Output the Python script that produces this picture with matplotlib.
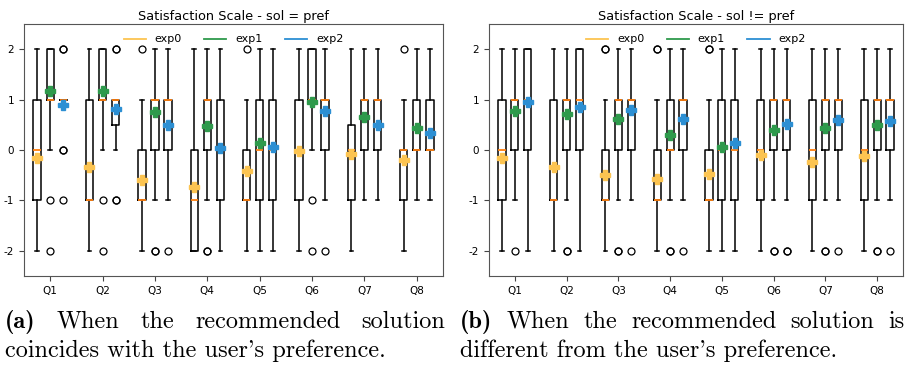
# Boxplots of satisfaction scores per question, two panels (sol = pref / sol != pref)
import matplotlib
matplotlib.use('Agg')
import matplotlib.pyplot as plt
from matplotlib.lines import Line2D

plt.rcParams['axes.unicode_minus'] = False

questions = ['Q1', 'Q2', 'Q3', 'Q4', 'Q5', 'Q6', 'Q7', 'Q8']
experiments = ['exp0', 'exp1', 'exp2']
exp_colors = ['#fcc451', '#2e9a4c', '#2c8fd3']

# Panel (a): sol = pref   -- one row per experiment, one value per question
a_q1 = [[-1, -1, -1, -2, -1, -1, -1, -1],
        [1, 1, 0, 0, -1, 1, 0, 0],
        [1, 0.5, 0, -1, -1, 0, 0, 0]]
a_med = [[0, -1, -1, -1, -1, 0, 0, 0],
         [1, 1, 1, 1, 0, 1, 1, 0],
         [1, 1, 1, 0, 0, 1, 1, 0]]
a_q3 = [[1, 1, 0, 0, 0, 1, 0.5, 0],
        [2, 2, 1, 1, 1, 2, 1, 1],
        [1, 1, 1, 1, 1, 1, 1, 1]]
a_lo = [[-2, -2, -2, -2, -2, -2, -2, -2],
        [0, 0, -1, -1, -2, 0, -1, -1],
        [1, 0, -1, -2, -2, -1, -1, -1]]
a_hi = [[2, 2, 1, 2, 1, 2, 2, 1],
        [2, 2, 2, 2, 2, 2, 2, 2],
        [1, 1, 2, 2, 2, 2, 2, 2]]
a_mean = [[-0.15, -0.33, -0.6, -0.73, -0.42, -0.02, -0.07, -0.2],
          [1.18, 1.18, 0.75, 0.48, 0.13, 0.95, 0.65, 0.43],
          [0.9, 0.82, 0.5, 0.03, 0.05, 0.78, 0.5, 0.33]]
a_fliers = [[[], [], [2], [], [2], [], [], [2]],
            [[-1, -2], [-1, -2], [-2, -2], [-2, -2], [], [-1, -2], [], []],
            [[2, 2, 0, 0, -1], [2, 2, -1, -1], [-2], [], [], [-2], [], []]]

# Panel (b): sol != pref
b_q1 = [[-1, -1, -1, -1, -1, -1, -1, -1],
        [0, 0, 0, 0, -1, 0, 0, 0],
        [0, 0, 0, 0, -1, 0, 0, 0]]
b_med = [[0, -1, -1, -1, -1, 0, 0, 0],
         [1, 1, 1, 0, 0, 1, 1, 1],
         [1, 1, 1, 1, 0, 1, 1, 1]]
b_q3 = [[1, 1, 0, 0, 0, 1, 1, 1],
        [1, 1, 1, 1, 1, 1, 1, 1],
        [2, 2, 1, 1, 1, 1, 1, 1]]
b_lo = [[-2, -2, -2, -2, -2, -2, -2, -2],
        [-1, -1, -1, -1, -2, -1, -1, -1],
        [-2, -2, -1, -1, -2, -1, -1, -1]]
b_hi = [[2, 2, 1, 1, 1, 2, 2, 2],
        [2, 2, 2, 2, 2, 2, 2, 2],
        [2, 2, 2, 2, 2, 2, 2, 2]]
b_mean = [[-0.15, -0.33, -0.5, -0.58, -0.47, -0.1, -0.23, -0.12],
          [0.77, 0.72, 0.62, 0.3, 0.05, 0.4, 0.43, 0.5],
          [0.95, 0.85, 0.8, 0.62, 0.13, 0.52, 0.6, 0.57]]
b_fliers = [[[], [], [2, 2], [2, 2], [2, 2], [], [], []],
            [[-2], [-2, -2], [-2, -2], [-2, -2], [], [-2, -2], [-2, -2], [-2, -2]],
            [[], [], [-2], [-2], [], [-2, -2], [-2], [-2]]]


def draw_panel(ax, title, q1, med, q3, lo, hi, mean, fliers):
    for e in range(len(experiments)):
        stats = []
        for i in range(len(questions)):
            stats.append(dict(q1=q1[e][i], med=med[e][i], q3=q3[e][i],
                              whislo=lo[e][i], whishi=hi[e][i],
                              mean=mean[e][i], fliers=fliers[e][i]))
        pos = [i + 1 + (e - 1) * 0.25 for i in range(len(questions))]
        ax.bxp(stats, positions=pos, widths=0.14, showmeans=True,
               boxprops=dict(color='black', linewidth=1.1),
               whiskerprops=dict(color='black', linewidth=1.1),
               capprops=dict(color='black', linewidth=1.1),
               medianprops=dict(color='#ff7f0e', linewidth=1.3),
               flierprops=dict(marker='o', markersize=5, markerfacecolor='none',
                               markeredgecolor='black', markeredgewidth=0.9),
               meanprops=dict(marker='P', markersize=7.5, markerfacecolor=exp_colors[e],
                              markeredgecolor=exp_colors[e]),
               manage_ticks=False)
    ax.set_xticks(range(1, len(questions) + 1))
    ax.set_xticklabels(questions)
    ax.set_xlim(0.5, len(questions) + 0.5)
    ax.set_ylim(-2.5, 2.5)
    ax.set_yticks([-2, -1, 0, 1, 2])
    ax.tick_params(labelsize=7.5, color='#444444')
    for s in ax.spines.values():
        s.set_color('#555555')
    ax.set_title(title, fontsize=9.3, pad=3)
    handles = [Line2D([], [], color=c, linewidth=1.3) for c in exp_colors]
    ax.legend(handles, experiments, loc='upper center', ncol=3, frameon=False,
              fontsize=8, bbox_to_anchor=(0.5, 0.985), borderaxespad=0.2)


fig = plt.figure(figsize=(9.07, 3.65), dpi=100)
W, H = 907, 365
ax_a = fig.add_axes([24 / W, 89 / H, 419 / W, 252 / H])
ax_b = fig.add_axes([489 / W, 89 / H, 414 / W, 252 / H])

draw_panel(ax_a, 'Satisfaction Scale - sol = pref',
           a_q1, a_med, a_q3, a_lo, a_hi, a_mean, a_fliers)
draw_panel(ax_b, 'Satisfaction Scale - sol != pref',
           b_q1, b_med, b_q3, b_lo, b_hi, b_mean, b_fliers)

# captions in Computer Modern, first line justified like the LaTeX subcaptions
renderer = fig.canvas.get_renderer()
probe = fig.text(0, 0, "coincides with the user's preference.", family='cmr10', fontsize=10)
cap_size = 10 * 383 / probe.get_window_extent(renderer).width
probe.remove()


def justified_line(words, x0, x1, y):
    texts = []
    for w, bold in words:
        t = fig.text(0, y / H, w, family='cmb10' if bold else 'cmr10',
                     fontsize=cap_size, va='baseline', ha='left')
        texts.append(t)
    widths = [t.get_window_extent(renderer).width for t in texts]
    gap = (x1 - x0 - sum(widths)) / (len(texts) - 1)
    x = x0
    for t, w in zip(texts, widths):
        t.set_x(x / W)
        x += w + gap


justified_line([('(a)', True), ('When', False), ('the', False),
                ('recommended', False), ('solution', False)], 5, 445, H - 328)
fig.text(5 / W, (H - 357) / H, "coincides with the user's preference.",
         family='cmr10', fontsize=cap_size, va='baseline')
justified_line([('(b)', True), ('When', False), ('the', False),
                ('recommended', False), ('solution', False), ('is', False)],
               460, 905, H - 328)
fig.text(460 / W, (H - 357) / H, "different from the user's preference.",
         family='cmr10', fontsize=cap_size, va='baseline')

fig.savefig('out.png', dpi=100)
